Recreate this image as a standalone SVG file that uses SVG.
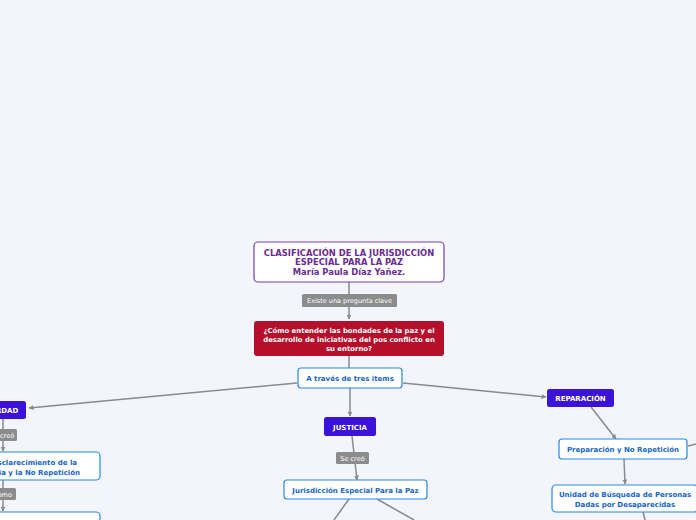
<svg xmlns="http://www.w3.org/2000/svg" width="696" height="520" viewBox="0 0 696 520">
<defs>
<marker id="arr" viewBox="0 0 10 10" refX="9" refY="5" markerWidth="5" markerHeight="5" orient="auto" markerUnits="userSpaceOnUse">
<path d="M0,0 L10,5 L0,10 z" fill="#8a8a8a"/>
</marker>
<style>
.bg{fill:#f3f5fd}
.ln{stroke:#8a8a8a;stroke-width:1.5;fill:none}
.lbl rect{fill:#8c8c8c}
.lbl text{fill:#ffffff;font-family:"DejaVu Sans",Verdana,sans-serif;font-size:6.5px;text-anchor:middle}
.wb rect{fill:#ffffff;stroke:#2a86e6;stroke-width:1.2}
.wb text{fill:#1565c8;font-family:"DejaVu Sans",Verdana,sans-serif;font-size:7px;font-weight:bold;text-anchor:middle}
.ind rect{fill:#3a12d8}
.ind text{fill:#ffffff;font-family:"DejaVu Sans",Verdana,sans-serif;font-size:7px;font-weight:bold;text-anchor:middle}
</style>
</defs>
<rect class="bg" x="0" y="0" width="696" height="520"/>

<g id="connectors">
<path class="ln" d="M349,282 L349,319" marker-end="url(#arr)"/>
<path class="ln" d="M349,356 L349,368"/>
<path class="ln" d="M297,383 L29,408" marker-end="url(#arr)"/>
<path class="ln" d="M350,388 L350,416" marker-end="url(#arr)"/>
<path class="ln" d="M403,383 L546,397" marker-end="url(#arr)"/>
<path class="ln" d="M3,419 L3,451" marker-end="url(#arr)"/>
<path class="ln" d="M3,480 L3,511" marker-end="url(#arr)"/>
<path class="ln" d="M352,436 L357,480" marker-end="url(#arr)"/>
<path class="ln" d="M349,499 L334,520"/>
<path class="ln" d="M377,499 L414,520"/>
<path class="ln" d="M591,407 L616,439" marker-end="url(#arr)"/>
<path class="ln" d="M624,459 L625,484" marker-end="url(#arr)"/>
<path class="ln" d="M688,446 L696,444"/>
<path class="ln" d="M643,512 L645,520"/>
<g class="lbl"><rect x="302" y="294" width="95" height="13" rx="1.5"/><text x="349.5" y="303">Existe una pregunta clave</text></g>
<g class="lbl"><rect x="-13" y="429" width="30" height="12" rx="1.5"/><text x="2" y="437.5">Se creó</text></g>
<g class="lbl"><rect x="-11" y="488" width="27" height="12" rx="1.5"/><text x="2.5" y="496.5">Como</text></g>
<g class="lbl"><rect x="336" y="452" width="33" height="12" rx="1.5"/><text x="352.5" y="460.5">Se creó</text></g>
</g>

<g id="title">
<rect x="254" y="242" width="190" height="40" rx="4" fill="#ffffff" stroke="#7a3fa6" stroke-width="1.2"/>
<g fill="#6a2c91" font-family="'DejaVu Sans',Verdana,sans-serif" font-size="8.4px" font-weight="bold" text-anchor="middle">
<text x="349" y="256">CLASIFICACIÓN DE LA JURISDICCIÓN</text>
<text x="349" y="265">ESPECIAL PARA LA PAZ</text>
<text x="349" y="275">María Paula Díaz Yañez.</text>
</g>
</g>

<g id="question">
<rect x="254" y="321" width="190" height="35" rx="3" fill="#b50f2c"/>
<g fill="#ffffff" font-family="'DejaVu Sans',Verdana,sans-serif" font-size="6.9px" font-weight="bold" text-anchor="middle">
<text x="349" y="333">¿Cómo entender las bondades de la paz y el</text>
<text x="349" y="342">desarrollo de iniciativas del pos conflicto en</text>
<text x="349" y="351">su entorno?</text>
</g>
</g>

<g id="items" class="wb">
<rect x="298" y="368" width="104" height="20" rx="3"/>
<text x="350" y="381">A través de tres items</text>
</g>

<g id="verdad" class="ind">
<rect x="-22" y="401" width="48" height="18" rx="2.5"/>
<text x="2" y="412.5">VERDAD</text>
</g>

<g id="comision" class="wb">
<rect x="-150" y="452" width="250" height="28" rx="4"/>
<text x="77" y="465" style="text-anchor:end">Comisión para el Esclarecimiento de la</text>
<text x="80" y="475" style="text-anchor:end">Verdad, la Convivencia y la No Repetición</text>
</g>

<g id="verdad-child" class="wb">
<rect x="-150" y="512" width="250" height="30" rx="4"/>
</g>

<g id="justicia" class="ind">
<rect x="324" y="417" width="52" height="19" rx="2.5"/>
<text x="350" y="429.5">JUSTICIA</text>
</g>

<g id="jep" class="wb">
<rect x="284" y="480" width="143" height="19" rx="3"/>
<text x="355.5" y="492.5">Jurisdicción Especial Para la Paz</text>
</g>

<g id="reparacion" class="ind">
<rect x="547" y="389" width="67" height="18" rx="2.5"/>
<text x="580.5" y="400.5">REPARACIÓN</text>
</g>

<g id="preparacion" class="wb">
<rect x="559" y="439" width="128" height="20" rx="3"/>
<text x="623" y="452">Preparación y No Repetición</text>
</g>

<g id="unidad" class="wb">
<rect x="552" y="485" width="146" height="27" rx="4"/>
<text x="625" y="497">Unidad de Búsqueda de Personas</text>
<text x="625" y="506.5">Dadas por Desaparecidas</text>
</g>
</svg>
